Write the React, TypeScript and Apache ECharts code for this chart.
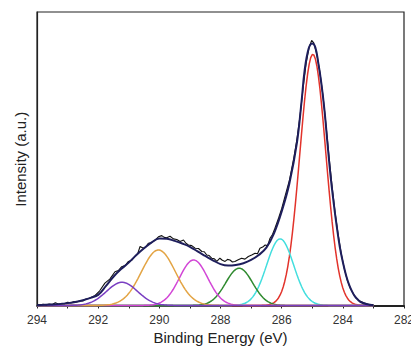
import React, { useEffect, useRef } from "react";
import * as echarts from "echarts";

// Raw measured spectrum (binding energy eV, intensity a.u.)
const rawEnergy = [
  294.0, 293.9, 293.8, 293.7, 293.6, 293.5, 293.4, 293.3, 293.2, 293.1, 293.0, 292.9, 292.8, 292.7, 292.6, 292.5, 292.4, 292.3, 292.2, 292.1,
  291.95, 291.78, 291.62, 291.45, 291.34, 291.23, 291.12, 291.01, 290.9, 290.8, 290.71, 290.63, 290.52, 290.44, 290.36, 290.25, 290.14, 290.03,
  289.92, 289.84, 289.76, 289.65, 289.54, 289.43, 289.32, 289.21, 289.13, 289.05, 288.94, 288.83, 288.72, 288.61, 288.53, 288.45, 288.37,
  288.29, 288.2, 288.12, 288.02, 287.94, 287.85, 287.77, 287.69, 287.61, 287.53, 287.42, 287.31, 287.2, 287.09, 286.98, 286.87, 286.79,
  286.71, 286.62, 286.54, 286.46, 286.38, 286.3, 286.22, 286.1, 286.0, 285.9, 285.75, 285.6, 285.5, 285.4, 285.3, 285.2, 285.1, 285.02,
  284.95, 284.85, 284.75, 284.65, 284.55, 284.45, 284.35, 284.25, 284.15, 284.05, 283.95, 283.85, 283.75, 283.65, 283.55, 283.45, 283.3,
  283.15, 283.0,
];
const rawIntensity = [
  0.3, 0.2, 0.4, 0.2, 0.5, 0.3, 0.9, 0.5, 0.7, 0.6, 1.1, 0.9, 1.3, 1.2, 1.6, 1.5, 2.2, 2.4, 2.9, 3.4,
  5.0, 7.6, 9.0, 11.5, 11.9, 13.2, 13.6, 15.0, 15.4, 16.7, 17.6, 20.1, 19.5, 20.0, 21.2, 21.4, 22.3, 23.4,
  23.8, 23.2, 23.1, 23.6, 22.7, 22.5, 21.8, 22.3, 21.2, 20.6, 20.4, 19.5, 19.4, 18.4, 18.3, 17.2, 17.0,
  16.1, 15.9, 15.0, 16.1, 15.4, 15.0, 15.7, 15.5, 14.8, 15.0, 15.6, 16.1, 15.8, 16.7, 17.2, 17.8, 17.6,
  19.5, 19.9, 20.6, 20.4, 22.9, 24.2, 26.3, 29.8, 33.0, 36.8, 42.5, 50.5, 56.8, 64.5, 74.0, 82.5, 88.0, 90.3,
  89.5, 85.5, 79.5, 71.5, 61.5, 50.5, 40.5, 31.5, 24.0, 17.5, 12.5, 8.5, 5.8, 3.8, 2.4, 1.5, 0.8,
  0.3, 0.2,
];

// Fitted envelope
const fitEnergy = [
  294.0, 293.5, 293.0, 292.75, 292.5, 292.25, 292.0, 291.75, 291.5, 291.25, 291.0, 290.75, 290.5, 290.25, 290.0,
  289.75, 289.5, 289.25, 289.0, 288.75, 288.5, 288.25, 288.0, 287.75, 287.5, 287.25, 287.0, 286.75, 286.5, 286.25,
  286.0, 285.75, 285.5, 285.35, 285.25, 285.12, 285.0, 284.9, 284.8, 284.7, 284.6, 284.5, 284.4, 284.3, 284.2,
  284.1, 284.0, 283.9, 283.8, 283.7, 283.6, 283.5, 283.4, 283.2, 283.0,
];
const fitIntensity = [
  0.1, 0.3, 0.8, 1.2, 1.8, 2.6, 3.6, 6.6, 9.8, 12.4, 14.6, 17.2, 19.5, 21.5, 22.8,
  22.7, 22.0, 21.1, 20.0, 18.4, 16.9, 15.4, 14.1, 13.6, 13.8, 14.4, 15.5, 17.2, 19.7, 24.6,
  32.0, 41.5, 55.5, 69.5, 80.0, 87.5, 89.3, 88.0, 82.5, 75.5, 66.5, 55.0, 44.0, 35.0, 27.0,
  20.0, 14.8, 10.5, 7.2, 4.8, 3.0, 1.9, 1.1, 0.4, 0.1,
];

// Component peaks
const peakNames = ["C1", "C2", "C3", "C4", "C5", "C6"];
const peakCenters = [284.98, 286.05, 287.39, 288.88, 290.03, 291.22];
const peakHeights = [85.6, 22.7, 12.7, 15.5, 18.9, 7.9];
const peakFwhm = [1.0, 1.04, 1.04, 1.09, 1.31, 1.2];
const peakColors = ["#e2332b", "#43dede", "#2f8a2f", "#d246d6", "#e3a444", "#7a3fc2"];

const xTicks = [282, 284, 286, 288, 290, 292, 294];
const eStart = 294;
const eEnd = 283;
const eStep = 0.05;

function peakCurve(i: number): number[][] {
  const s = peakFwhm[i] / 2.3548;
  const pts: number[][] = [];
  const n = Math.round((eStart - eEnd) / eStep);
  for (let k = 0; k <= n; k++) {
    const e = eStart - k * eStep;
    const d = e - peakCenters[i];
    pts.push([e, peakHeights[i] * Math.exp(-(d * d) / (2 * s * s))]);
  }
  return pts;
}

const FONT = "'Liberation Sans', Arial, Helvetica, sans-serif";

export default function App() {
  const ref = useRef<HTMLDivElement>(null);
  useEffect(() => {
    if (!ref.current) return;
    const chart = echarts.init(ref.current, undefined, { renderer: "svg" });
    const compSeries = peakNames.map((name, i) => ({
      name,
      type: "line",
      data: peakCurve(i),
      showSymbol: false,
      symbol: "none",
      lineStyle: { color: peakColors[i], width: 1.5 },
      z: 2,
    }));
    chart.setOption({
      animation: false,
      backgroundColor: "#ffffff",
      grid: {
        left: 37,
        right: 7,
        top: 12,
        bottom: 46.5,
        show: true,
        borderColor: "#222",
        borderWidth: 1.2,
        containLabel: false,
        outerBoundsMode: "none",
      },
      xAxis: {
        type: "value",
        min: 282,
        max: 294,
        interval: 1,
        inverse: true,
        name: "Binding Energy (eV)",
        nameLocation: "middle",
        nameGap: 20,
        nameTextStyle: { fontFamily: FONT, fontSize: 15, color: "#222" },
        axisLine: { show: true, lineStyle: { color: "#222", width: 1.2 } },
        axisTick: { show: true, inside: false, length: 3, lineStyle: { color: "#222", width: 1 } },
        axisLabel: {
          fontFamily: FONT,
          fontSize: 12,
          color: "#333",
          margin: 7,
          formatter: (v: number) => (xTicks.indexOf(v) >= 0 ? String(v) : ""),
        },
        splitLine: { show: false },
      },
      yAxis: {
        type: "value",
        min: -0.35,
        max: 100,
        name: "Intensity (a.u.)",
        nameLocation: "middle",
        nameGap: 9,
        nameRotate: 90,
        nameTextStyle: { fontFamily: FONT, fontSize: 15, color: "#222" },
        axisLine: { show: true, lineStyle: { color: "#222", width: 1.2 } },
        axisTick: { show: false },
        axisLabel: { show: false },
        splitLine: { show: false },
      },
      series: [
        ...compSeries,
        {
          name: "Raw",
          type: "line",
          data: rawEnergy.map((e, i) => [e, rawIntensity[i]]),
          showSymbol: false,
          symbol: "none",
          lineStyle: { color: "#111111", width: 1.1 },
          z: 3,
        },
        {
          name: "Fit",
          type: "line",
          smooth: 0.4,
          data: fitEnergy.map((e, i) => [e, fitIntensity[i]]),
          showSymbol: false,
          symbol: "none",
          lineStyle: { color: "#1e1e5c", width: 2 },
          z: 4,
        },
      ],
    });
    return () => chart.dispose();
  }, []);
  return (
    <div
      ref={ref}
      style={{ position: "fixed", left: 0, top: 0, width: 411, height: 353, background: "#fff" }}
    />
  );
}
